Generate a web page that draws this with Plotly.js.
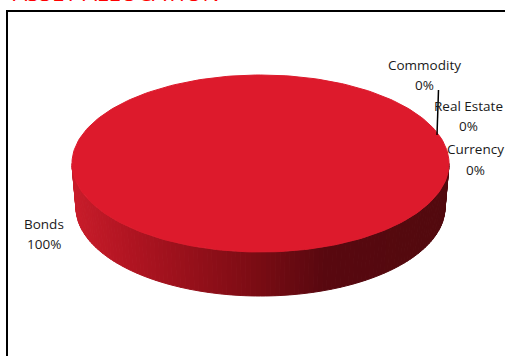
<!DOCTYPE html>
<html>
<head>
<meta charset="utf-8">
<script src="https://cdn.plot.ly/plotly-3.0.1.min.js"></script>
<style>html,body{margin:0;padding:0;background:#fff;overflow:hidden}#chart{width:505px;height:356px}</style>
</head>
<body>
<div id="chart"></div>
<script>
// Portfolio split by asset class
const categories = ['Bonds', 'Currency', 'Real Estate', 'Commodity'];
const shares = [100, 0, 0, 0];
const chartTitle = 'ASSET ALLOCATION';

// Label anchor for each category: centre x, name line y, value line y
const labelX = [44, 475, 468, 424];
const labelNameY = [224, 149, 106, 65];
const labelValueY = [244, 170, 126, 85];

// Disc geometry on the plot's axes; the lower rim is a little narrower for perspective
const cx = 260.5, cy = 163.5, rx = 188.5, ry = 88.5, depth = 44, rimInset = 4;
const STEPS = 240;
const topColor = '#dd1a2c';
const gradient = [[72, [200, 28, 42]], [130, [176, 20, 33]], [250, [125, 12, 20]], [325, [88, 8, 15]], [450, [82, 9, 14]]];

function wallColor(x) {
  for (let i = 1; i < gradient.length; i++) {
    const [x0, c0] = gradient[i - 1], [x1, c1] = gradient[i];
    if (x <= x1) {
      const t = Math.max(0, (x - x0) / (x1 - x0));
      return 'rgb(' + c0.map((v, j) => Math.round(v + (c1[j] - v) * t)).join(',') + ')';
    }
  }
  return 'rgb(82,9,14)';
}

const total = shares.reduce((a, b) => a + b, 0);
const walls = [], tops = [];
let start = 0;
shares.forEach((share, idx) => {
  if (share <= 0) return;
  const sweep = share / total * 2 * Math.PI;
  const n = Math.max(2, Math.round(STEPS * share / total));
  const xs = [], ys = [];
  for (let k = 0; k <= n; k++) {
    const a0 = start + sweep * k / n;
    xs.push(cx + rx * Math.cos(a0));
    ys.push(cy + ry * Math.sin(a0));
    if (k === n) break;
    const a1 = start + sweep * (k + 1) / n;
    // Only the near half of the rim faces the viewer
    if (Math.sin((a0 + a1) / 2) > 0) {
      const p = [[a0, 0], [a1, 0], [a1, 1], [a0, 1], [a0, 0]];
      const col = wallColor(cx + rx * Math.cos((a0 + a1) / 2));
      walls.push({
        x: p.map(q => cx + (rx - rimInset * q[1]) * Math.cos(q[0])),
        y: p.map(q => cy + ry * Math.sin(q[0]) + q[1] * depth),
        mode: 'lines', fill: 'toself', fillcolor: col,
        line: {color: col, width: 1}, hoverinfo: 'skip', showlegend: false
      });
    }
  }
  if (share < total) { xs.push(cx); ys.push(cy); }
  tops.push({
    x: xs, y: ys, mode: 'lines', fill: 'toself', fillcolor: topColor,
    line: {color: topColor, width: 1}, name: categories[idx], hoverinfo: 'name', showlegend: false
  });
  start += sweep;
});

// Leader line running from the rim up to the small-slice labels
const leader = {
  x: [437, 438.5], y: [135, 90], mode: 'lines',
  line: {color: '#000', width: 1.5}, hoverinfo: 'skip', showlegend: false
};

const labelFont = {family: 'Open Sans, sans-serif', size: 13.5, color: '#1a1a1a'};
const annotations = [];
categories.forEach((name, i) => {
  annotations.push({x: labelX[i], y: labelNameY[i], text: name, showarrow: false, xanchor: 'center', yanchor: 'middle', font: labelFont});
  annotations.push({x: labelX[i], y: labelValueY[i], text: shares[i] + '%', showarrow: false, xanchor: 'center', yanchor: 'middle', font: labelFont});
});
annotations.push({
  xref: 'paper', yref: 'paper', x: 0, y: 1, xanchor: 'left', yanchor: 'bottom', xshift: 11, yshift: -10,
  text: chartTitle, showarrow: false, font: {family: 'Open Sans, sans-serif', size: 22.5, color: '#ff0000'}
});

const frame = {color: '#000', width: 2};
const layout = {
  width: 505, height: 356,
  margin: {l: 0, r: 0, t: 0, b: 0},
  paper_bgcolor: '#fff', plot_bgcolor: '#fff',
  xaxis: {range: [0, 505], visible: false, fixedrange: true},
  yaxis: {range: [356, 0], visible: false, fixedrange: true},
  showlegend: false,
  annotations,
  shapes: [
    {type: 'line', xref: 'x', yref: 'y', x0: 7, x1: 505, y0: 11, y1: 11, line: frame},
    {type: 'line', xref: 'x', yref: 'y', x0: 7, x1: 7, y0: 10, y1: 356, line: frame}
  ]
};

Plotly.newPlot('chart', walls.concat(tops, [leader]), layout, {displayModeBar: false, staticPlot: true});
</script>
</body>
</html>
